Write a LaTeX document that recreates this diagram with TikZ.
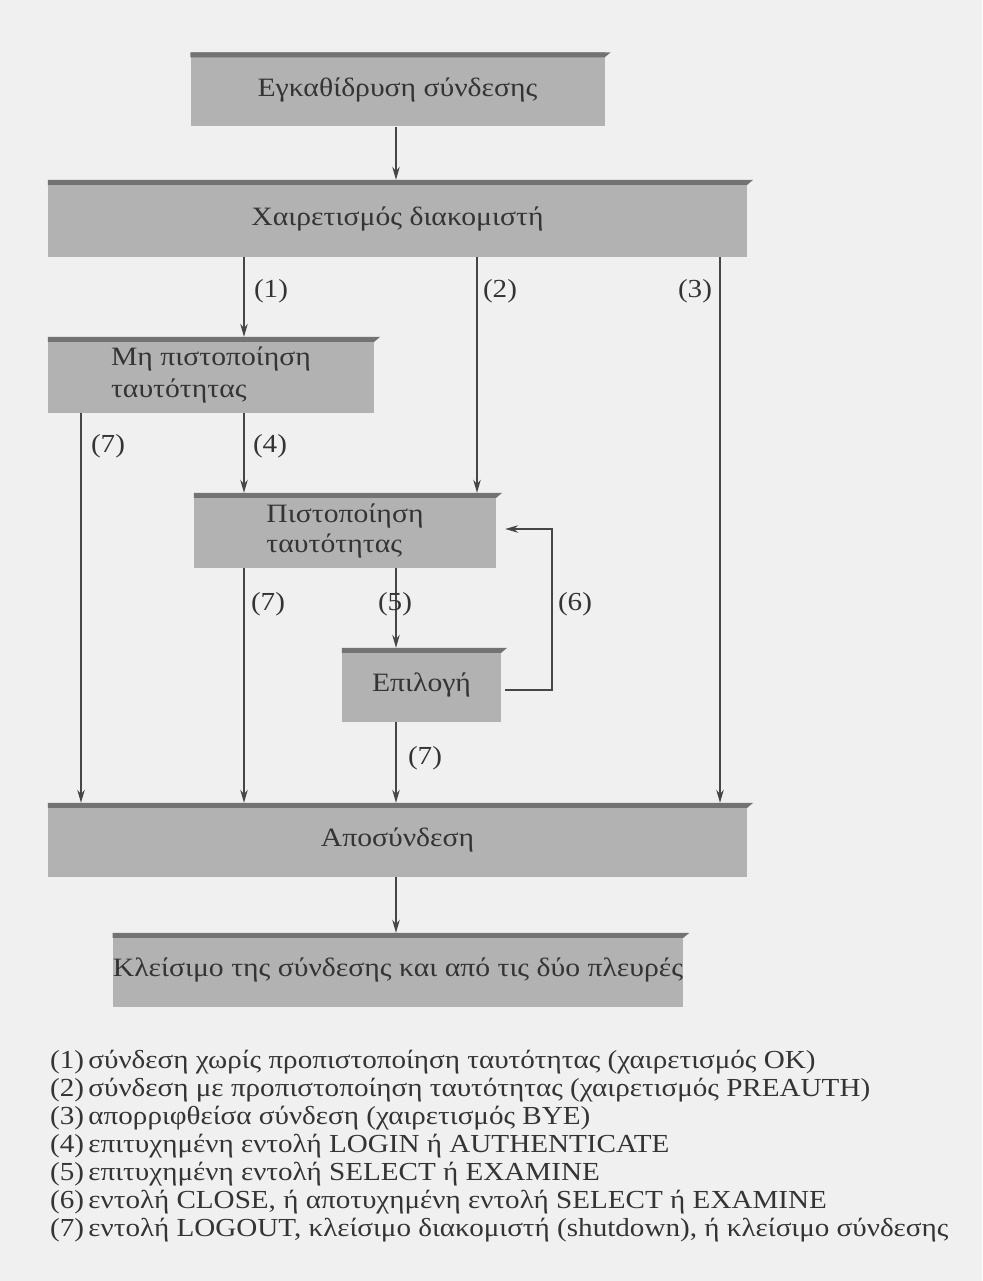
\documentclass[tikz,border=0pt]{standalone}
\usepackage{fontspec}
\setmainfont{Liberation Serif}[FakeStretch=1.12]
\usetikzlibrary{arrows.meta,calc}
\definecolor{paper}{RGB}{240,240,240}
\definecolor{slab}{RGB}{178,178,178}
\definecolor{slabtop}{RGB}{115,115,115}
\definecolor{ink}{RGB}{52,52,52}
\definecolor{wire}{RGB}{70,70,70}
% dark bevelled strip along the top edge of a state box
\newcommand\slabedge[1]{%
  \fill[slabtop] (#1.north west) -- ($(#1.north east)+(6,0)$)
    -- ($(#1.north east)+(0,5)$) -- ($(#1.north west)+(0,5)$) -- cycle;}
\begin{document}
\begin{tikzpicture}[x=1pt,y=-1pt,
  stage/.style={fill=slab, draw=none, inner sep=0pt, text=ink,
    font=\fontsize{26.5}{31}\selectfont},
  flow/.style={draw=wire, line width=1.4pt, -{Stealth[length=13pt,width=7.5pt]}},
  tag/.style={text=ink, font=\fontsize{26}{28}\selectfont, inner sep=0pt},
  legend/.style={text=ink, font=\fontsize{26}{28}\selectfont, inner sep=0pt, anchor=west},
]
\fill[paper] (0,0) rectangle (982,1281);
\useasboundingbox (0,0) rectangle (982,1281);

% columns used by the vertical connectors
\coordinate (colA) at (81,0);
\coordinate (colB) at (244,0);
\coordinate (colC) at (396,0);
\coordinate (colD) at (477,0);
\coordinate (colE) at (720,0);
\coordinate (loopR) at (552,0);

% states
\node[stage, minimum width=414pt, minimum height=74pt] (setup) at (397.5,89.5) {Εγκαθίδρυση σύνδεσης};
\node[stage, minimum width=699pt, minimum height=77pt] (greet) at (397.5,218.5) {Χαιρετισμός διακομιστή};
\node[stage, minimum width=326pt, minimum height=76pt, align=left, font=\fontsize{26.5}{32}\selectfont] (noauth) at (211,375) {Μη πιστοποίηση\\ταυτότητας};
\node[stage, minimum width=302pt, minimum height=75pt, align=left, font=\fontsize{26.5}{30}\selectfont] (auth) at (345,530.5) {Πιστοποίηση\\ταυτότητας};
\node[stage, minimum width=159pt, minimum height=74pt] (choose) at (421.5,685) {Επιλογή};
\node[stage, minimum width=699pt, minimum height=74pt] (logout) at (397.5,840) {Αποσύνδεση};
\node[stage, minimum width=570pt, minimum height=74pt] (closed) at (398,970) {Κλείσιμο της σύνδεσης και από τις δύο πλευρές};

\slabedge{setup}
\slabedge{greet}
\slabedge{noauth}
\slabedge{auth}
\slabedge{choose}
\slabedge{logout}
\slabedge{closed}

% transitions
\draw[flow] (setup.south -| colC) -- (greet.north -| colC);
\draw[flow] (greet.south -| colB) -- (noauth.north -| colB);
\draw[flow] (greet.south -| colD) -- (auth.north -| colD);
\draw[flow] (greet.south -| colE) -- (logout.north -| colE);
\draw[flow] (noauth.south -| colA) -- (logout.north -| colA);
\draw[flow] (noauth.south -| colB) -- (auth.north -| colB);
\draw[flow] (auth.south -| colB) -- (logout.north -| colB);
\draw[flow] (auth.south -| colC) -- (choose.north -| colC);
\draw[flow] (choose.south -| colC) -- (logout.north -| colC);
\draw[flow] (logout.south -| colC) -- (closed.north -| colC);

\coordinate (sel6) at ($(choose.east)+(4,5)$);
\coordinate (auth6) at ($(auth.east)+(9,-1.5)$);
\draw[flow] (sel6) -- (sel6 -| loopR) -- (auth6 -| loopR) -- (auth6);

% transition numbers
\node[tag] (t1) at (271,291) {(1)};
\node[tag] (t2) at (500,291) {(2)};
\node[tag] (t3) at (695,291) {(3)};
\node[tag] (t7a) at (108,446) {(7)};
\node[tag] (t4) at (270,446) {(4)};
\node[tag] (t7b) at (268,604) {(7)};
\node[tag] (t5) at (395,604) {(5)};
\node[tag] (t6) at (575,604) {(6)};
\node[tag] (t7c) at (425,758) {(7)};

% key
\node[legend] (k1) at (50,1062) {(1)\,σύνδεση χωρίς προπιστοποίηση ταυτότητας (χαιρετισμός OK)};
\node[legend] (k2) at (50,1090) {(2)\,σύνδεση με προπιστοποίηση ταυτότητας (χαιρετισμός PREAUTH)};
\node[legend] (k3) at (50,1118) {(3)\,απορριφθείσα σύνδεση (χαιρετισμός BYE)};
\node[legend] (k4) at (50,1146) {(4)\,επιτυχημένη εντολή LOGIN ή AUTHENTICATE};
\node[legend] (k5) at (50,1174) {(5)\,επιτυχημένη εντολή SELECT ή EXAMINE};
\node[legend] (k6) at (50,1202) {(6)\,εντολή CLOSE, ή αποτυχημένη εντολή SELECT ή EXAMINE};
\node[legend] (k7) at (50,1230) {(7)\,εντολή LOGOUT, κλείσιμο διακομιστή (shutdown), ή κλείσιμο σύνδεσης};
\end{tikzpicture}
\end{document}
